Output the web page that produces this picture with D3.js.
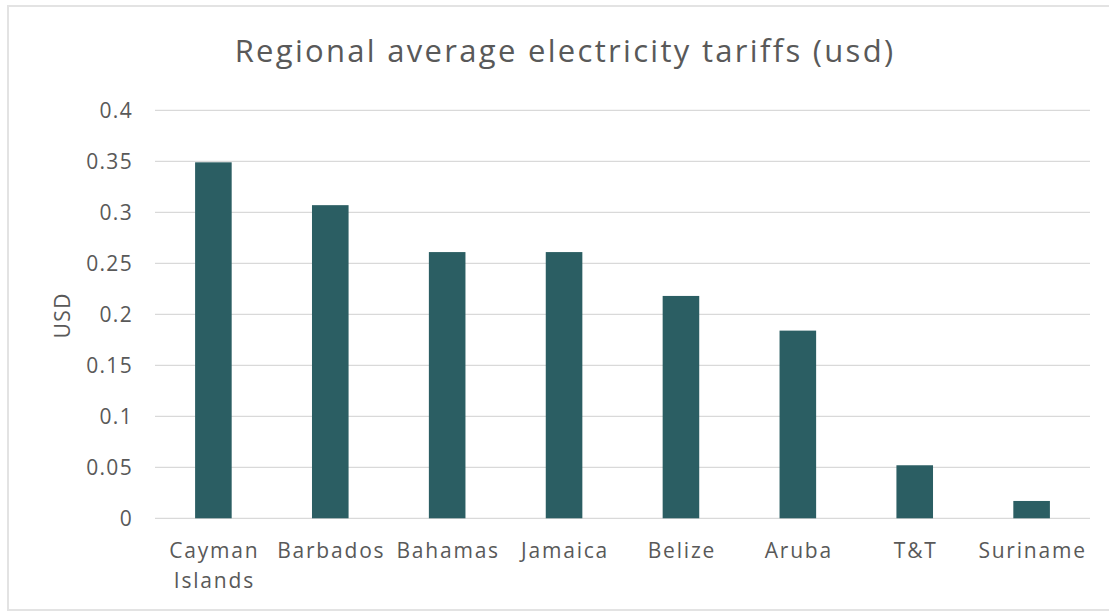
<!DOCTYPE html>
<html><head><meta charset="utf-8">
<script src="https://cdn.jsdelivr.net/npm/d3@7"></script>
<style>body{margin:0;background:#fff}svg{display:block}</style>
</head><body>
<script>
const categories = [["Cayman","Islands"],["Barbados"],["Bahamas"],["Jamaica"],["Belize"],["Aruba"],["T&T"],["Suriname"]];
const values = [0.349, 0.307, 0.261, 0.261, 0.218, 0.184, 0.052, 0.017];
const yTicks = [0,0.05,0.1,0.15,0.2,0.25,0.3,0.35,0.4];
const yTickLabels = ["0","0.05","0.1","0.15","0.2","0.25","0.3","0.35","0.4"];
const title = "Regional average electricity tariffs (usd)";
const yTitle = "USD";

(function(){
const W=1109,H=615;
const svg=d3.select("body").append("svg").attr("width",W).attr("height",H);
const font="'Open Sans', 'Liberation Sans', sans-serif";
const txt="#595959";
// chart border
svg.append("path").attr("d","M1120,6 H8 V610 H1120").attr("fill","none").attr("stroke","#e3e3e3").attr("stroke-width",2);

const pl=155,pr=1090,pt=110.3,pb=518.3;
const x=d3.scaleBand().domain(d3.range(categories.length)).range([pl,pr]).paddingInner(0.687).paddingOuter(0.343);
const y=d3.scaleLinear().domain([0,0.4]).range([pb,pt]);

// gridlines
svg.append("g").selectAll("line").data(yTicks).join("line")
 .attr("x1",pl).attr("x2",pr).attr("y1",d=>y(d)).attr("y2",d=>y(d))
 .attr("stroke","#d9d9d9").attr("stroke-width",1.3);

// y axis labels
const yAxis=d3.axisLeft(y).tickValues(yTicks).tickFormat((d,i)=>yTickLabels[i]).tickSize(0).tickPadding(0);
const gy=svg.append("g").attr("transform",`translate(${pl-22},0)`).call(yAxis);
gy.select(".domain").remove();
gy.selectAll("text").attr("fill",txt).style("font-family",font).style("font-size","21px").style("letter-spacing","1.3px");

// bars
svg.append("g").selectAll("rect").data(values).join("rect")
 .attr("x",(d,i)=>x(i)).attr("width",x.bandwidth())
 .attr("y",d=>y(d)).attr("height",d=>y(0)-y(d))
 .attr("fill","#2b5e63");

// x labels
const xl=svg.append("g");
categories.forEach((c,i)=>{
  const cx=x(i)+x.bandwidth()/2+1;
  const t=xl.append("text").attr("x",cx).attr("y",558)
   .attr("text-anchor","middle").attr("fill",txt).style("font-family",font).style("font-size","21px").style("letter-spacing","1.8px");
  c.forEach((line,j)=>t.append("tspan").attr("x",cx).attr("dy",j===0?0:30).text(line));
});

// title
svg.append("text").attr("x",565).attr("y",62).attr("text-anchor","middle")
 .attr("fill",txt).style("font-family",font).style("font-size","31px").style("letter-spacing","2.3px").text(title);

// y title
svg.append("text").attr("transform",`translate(70,${(pt+pb)/2+1}) rotate(-90)`)
 .attr("text-anchor","middle").attr("fill",txt).style("font-family",font).style("font-size","21px").style("letter-spacing","1.5px").text(yTitle);
})();
</script>
</body></html>
